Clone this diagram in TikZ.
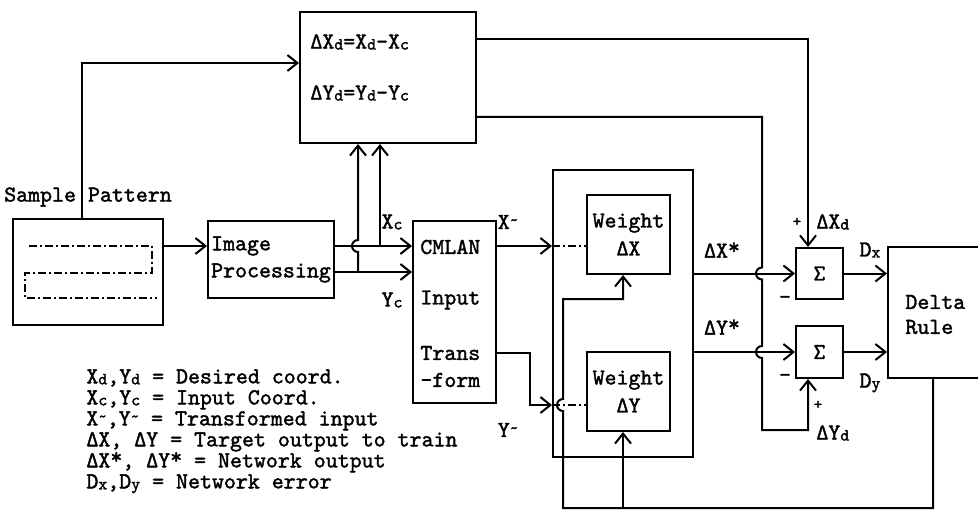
\documentclass[tikz,border=0pt]{standalone}
\usepackage{fontspec}
\newfontfamily\dotfont{lmmono10-regular.otf}[FakeBold=1.6]
\usetikzlibrary{arrows.meta,positioning,calc}

\newcommand{\dfont}{\dotfont\fontsize{11.4pt}{13pt}\selectfont}
\newcommand{\ix}[1]{\raisebox{-0.1ex}{\fontsize{8.5pt}{9pt}\selectfont #1}}
\newcommand{\tld}{\raisebox{0.4ex}{\fontsize{8pt}{9pt}\selectfont\textasciitilde}}
\newcommand{\str}{\raisebox{0.35ex}{*}}

\begin{document}
\begin{tikzpicture}[
    x=0.5pt, y=-0.5pt,
    font=\dfont,
    blk/.style={draw, line width=1pt, inner sep=1.5pt, font=\dfont},
    lbl/.style={inner sep=0pt, font=\dfont},
    arr/.style={line width=1pt, -{Straight Barb[length=5pt,width=8pt]}},
    dd/.style={line width=0.7pt, dash pattern=on 4pt off 1.5pt on 1pt off 1.5pt}
  ]
    \clip (0,0) rectangle (978,518);

    % boxes
    \node[blk, minimum width=88pt, minimum height=65.5pt] (frm) at (388,77.5) {};
    \node[lbl, anchor=west] (frmA) at (310,42) {ΔX\ix{d}=X\ix{d}-X\ix{c}};
    \node[lbl, anchor=west] (frmB) at (310,93) {ΔY\ix{d}=Y\ix{d}-Y\ix{c}};

    \node[blk, minimum width=75pt, minimum height=53pt] (smp) at (88,272) {};
    \node[lbl] (smpT) at (88,197) {Sample Pattern};
    \draw[dd] (29,246) -- (152,246) -- (152,273) -- (25,273) -- (25,298) -- (157,298);

    \node[blk, minimum width=63pt, minimum height=38.5pt, align=left] (img) at (271,259.5) {Image\\[0.5pt]Processing};

    \node[blk, minimum width=41.5pt, minimum height=91pt] (cml) at (454.5,312) {};
    \node[lbl, anchor=west] (cmlA) at (420,247) {CMLAN};
    \node[lbl, anchor=west] (cmlB) at (420,300) {Input};
    \node[lbl, anchor=west] (cmlC) at (420,353) {Trans};
    \node[lbl, anchor=west] (cmlD) at (420,380) {-form};

    \node[blk, minimum width=70pt, minimum height=143.5pt] (net) at (623,313.5) {};
    \node[blk, minimum width=41.5pt, minimum height=39.5pt, align=center] (wx) at (628.5,234.5) {Weight\\[1pt]ΔX};
    \node[blk, minimum width=41.5pt, minimum height=39.5pt, align=center] (wy) at (628.5,391.5) {Weight\\[1pt]ΔY};

    \node[blk, minimum width=23.5pt, minimum height=25.5pt] (s1) at (819.5,273.5) {Σ};
    \node[blk, minimum width=23.5pt, minimum height=26pt] (s2) at (819.5,352) {Σ};

    \node[blk, minimum width=86pt, minimum height=65.5pt] (dr) at (974,312.5) {};
    \node[lbl, anchor=west] (drA) at (905,302) {Delta};
    \node[lbl, anchor=west] (drB) at (905,327) {Rule};

    % labels
    \node[lbl] (lxc) at (392,222) {X\ix{c}};
    \node[lbl] (lyc) at (392,300) {Y\ix{c}};
    \node[lbl] (lxt) at (508,222) {X\tld};
    \node[lbl] (lyt) at (508,430) {Y\tld};
    \node[lbl] (lxs) at (722,250) {ΔX\str};
    \node[lbl] (lys) at (722,327) {ΔY\str};
    \node[lbl] (ldx) at (870,250) {D\ix{x}};
    \node[lbl] (ldy) at (870,383) {D\ix{y}};
    \node[lbl, font=\dotfont\footnotesize] (pA) at (797,222) {+};
    \node[lbl, anchor=west] (lxd) at (816,222) {ΔX\ix{d}};
    \node[lbl] (mA) at (785,300) {-};
    \node[lbl] (mB) at (785,378) {-};
    \node[lbl, font=\dotfont\footnotesize] (pB) at (818,405) {+};
    \node[lbl, anchor=west] (lyd) at (816,433) {ΔY\ix{d}};

    % legend
    \node[lbl, anchor=north west, align=left, font=\dotfont\fontsize{11.4pt}{10.5pt}\selectfont] (leg) at (86,369)
      {X\ix{d},Y\ix{d} = Desired coord.\\
       X\ix{c},Y\ix{c} = Input Coord.\\
       X\tld,Y\tld\ = Transformed input\\
       ΔX, ΔY = Target output to train\\
       ΔX\str, ΔY\str\ = Network output\\
       D\ix{x},D\ix{y} = Network error};

    % connectors
    \coordinate (rowA) at (0,246);
    \coordinate (rowB) at (0,272);
    \coordinate (rowY) at (0,405);
    \coordinate (spA) at (82,63);
    \draw[arr] (smp.north -| spA) -- (spA) -- (frm.west |- spA);
    \draw[arr] (smp.east |- rowA) -- (img.west |- rowA);
    \draw[arr] (img.east |- rowA) -- (cml.west |- rowA);
    \draw[arr] (img.east |- rowB) -- (cml.west |- rowB);
    \coordinate (upA) at (358,272);
    \coordinate (upB) at (380,246);
    \draw[arr] (upB) -- (frm.south -| upB);
    \draw[arr] (upA) -- (358,252) arc[start angle=270, end angle=90, radius=3pt] -- (frm.south -| upA);

    \draw[arr] (cml.east |- rowA) -- (net.west |- rowA);
    \draw[dd] (net.west |- rowA) -- (wx.west |- rowA);
    \coordinate (tyA) at (530,353);
    \draw[arr] (cml.east |- tyA) -- (tyA) |- (net.west |- rowY);
    \draw[dd] (net.west |- rowY) -- (wy.west |- rowY);

    \coordinate (fbA) at (933,508);
    \coordinate (fbB) at (563,508);
    \coordinate (fbC) at (563,299);
    \coordinate (fbD) at (623,299);
    \draw[arr] (dr.south -| fbA) -- (fbA) -- (fbB) -- (563,411) arc[start angle=270, end angle=90, radius=3pt] -- (fbC) -- (fbD) -- (wx.south -| fbD);
    \draw[arr] (fbB -| fbD) -- (wy.south -| fbD);

    \draw[arr] (net.east |- s1.west) -- (s1.west);
    \draw[arr] (net.east |- s2.west) -- (s2.west);
    \coordinate (dxA) at (808,39);
    \draw[arr] (frm.east |- dxA) -- (dxA) -- (s1.north -| dxA);
    \coordinate (dyA) at (762,117);
    \coordinate (dyB) at (762,430);
    \coordinate (dyC) at (808,430);
    \draw[arr] (frm.east |- dyA) -- (dyA) -- (762,267.5) arc[start angle=90, end angle=270, radius=3pt]
      -- (762,346) arc[start angle=90, end angle=270, radius=3pt] -- (dyB) -- (dyC) -- (s2.south -| dyC);
    \draw[arr] (s1.east) -- (dr.west |- s1.east);
    \draw[arr] (s2.east) -- (dr.west |- s2.east);
  \end{tikzpicture}
\end{document}
